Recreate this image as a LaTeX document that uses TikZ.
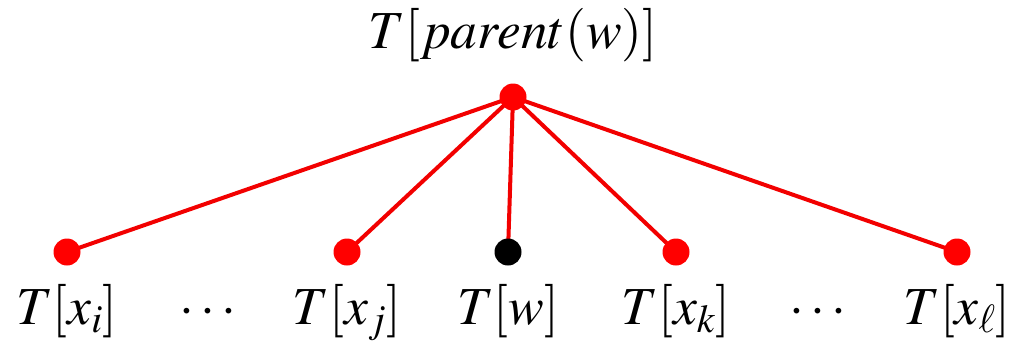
\documentclass[tikz,border=0pt]{standalone}
\usepackage{mathptmx}
\begin{document}
\begin{tikzpicture}[x=1pt,y=-1pt,
  edge/.style={draw=red!95!black, line width=4pt},
  rdot/.style={circle, fill=red, inner sep=0pt, minimum size=27pt},
  bdot/.style={circle, fill=black, inner sep=0pt, minimum size=27pt},
  lbl/.style={anchor=base, inner sep=0pt, font=\fontsize{53.5}{64}\selectfont}]
\useasboundingbox (0,0) rectangle (1014,343);
\coordinate (p) at (513,97);
\coordinate (a) at (67,252);
\coordinate (b) at (347,252);
\coordinate (c) at (508,252);
\coordinate (d) at (676,252);
\coordinate (e) at (957,252);
\foreach \n in {a,b,c,d,e} \draw[edge] (p) -- (\n);
\node[rdot] (P) at (p) {};
\node[rdot] (A) at (a) {};
\node[rdot] (B) at (b) {};
\node[bdot] (C) at (c) {};
\node[rdot] (D) at (d) {};
\node[rdot] (E) at (e) {};
\node[lbl] (lp) at (513,48) {$T[parent(w)]$};
\node[lbl] (la) at (67,324) {$T[x_i]$};
\node[lbl] (ld1) at (208,324) {$\cdots$};
\node[lbl] (lb) at (347,324) {$T[x_j]$};
\node[lbl] (lc) at (508,324) {$T[w]$};
\node[lbl] (ld) at (676,324) {$T[x_k]$};
\node[lbl] (ld2) at (818,324) {$\cdots$};
\node[lbl] (le) at (957,324) {$T[x_\ell]$};
\end{tikzpicture}
\end{document}
